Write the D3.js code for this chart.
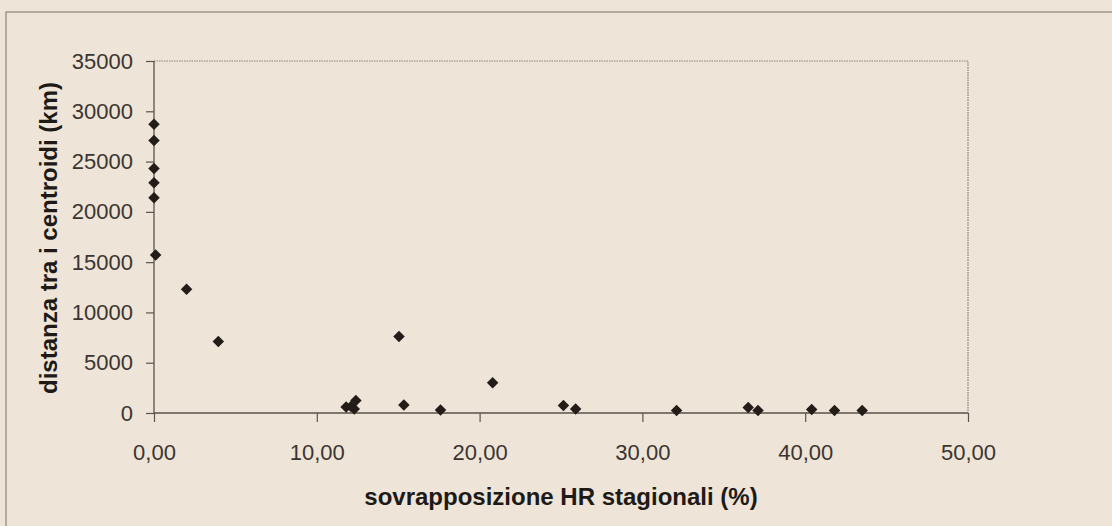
<!DOCTYPE html>
<html>
<head>
<meta charset="utf-8">
<script src="https://cdn.jsdelivr.net/npm/d3@7"></script>
<style>
    html, body { margin: 0; padding: 0; background: #eee4d8; }
    svg { display: block; }
    .tick text { font-family: 'Liberation Sans', Arial, sans-serif; }
</style>
</head>
<body>
<svg id="chart" width="1112" height="526"></svg>
<script>
// sovrapposizione HR stagionali (%) vs distanza tra i centroidi (km)
var hrOverlap = [0, 0, 0, 0, 0, 0.1, 2.0, 3.95, 11.8, 12.1, 12.3, 12.4, 15.05, 15.35, 17.6, 20.8,
    25.15, 25.9, 32.1, 36.5, 37.1, 40.4, 41.8, 43.5];
var centroidDist = [28700, 27100, 24300, 22900, 21400, 15700, 12300, 7100, 600, 650, 400, 1250, 7600, 800, 300, 3000,
    750, 400, 250, 550, 250, 350, 250, 250];
var xTicks = [0, 10, 20, 30, 40, 50];
var yTicks = [0, 5000, 10000, 15000, 20000, 25000, 30000, 35000];

var svg = d3.select('#chart');
var margin = {left: 154, right: 968, top: 61, bottom: 413};
var textColor = '#3b3530';
var axisColor = '#5a534d';

// outer frame of the figure
svg.append('rect')
    .attr('x', 6)
    .attr('y', 12)
    .attr('width', 1200)
    .attr('height', 600)
    .attr('fill', 'none')
    .attr('stroke', '#8c837a')
    .attr('stroke-width', 1.2);

var x = d3.scaleLinear().domain([0, 50]).range([margin.left, margin.right]);
var y = d3.scaleLinear().domain([0, 35000]).range([margin.bottom, margin.top]);

// top and right border of the plot area (dotted)
svg.append('path')
    .attr('d', 'M' + x(0) + ',' + y(35000) + 'H' + x(50) + 'V' + y(0))
    .attr('fill', 'none')
    .attr('stroke', '#8a8078')
    .attr('stroke-width', 1.2)
    .attr('stroke-dasharray', '1.5,1');

var fmtX = function (d) { return d3.format('.2f')(d).replace('.', ','); };

var xAxis = svg.append('g')
    .attr('transform', 'translate(0,' + y(0) + ')')
    .call(d3.axisBottom(x).tickValues(xTicks).tickFormat(fmtX).tickSize(9).tickPadding(22));

var yAxis = svg.append('g')
    .attr('transform', 'translate(' + x(0) + ',0)')
    .call(d3.axisLeft(y).tickValues(yTicks).tickFormat(d3.format('d')).tickSize(8).tickPadding(13));

[xAxis, yAxis].forEach(function (ax) {
    ax.select('.domain').attr('stroke', axisColor).attr('stroke-width', 1.3);
    ax.selectAll('.tick line').attr('stroke', axisColor).attr('stroke-width', 1.2);
    ax.selectAll('.tick text')
        .attr('fill', textColor)
        .style('font-size', '22px');
});
xAxis.select('.domain').attr('d', 'M' + x(0) + ',0H' + x(50));
yAxis.select('.domain').attr('d', 'M0,' + y(0) + 'V' + y(35000));

// points (diamonds = squares turned 45 degrees)
var diamond = d3.symbol().type(d3.symbolSquare).size(66);
svg.append('g')
    .selectAll('path')
    .data(hrOverlap.map(function (v, i) { return [v, centroidDist[i]]; }))
    .enter().append('path')
    .attr('d', diamond)
    .attr('transform', function (d) { return 'translate(' + x(d[0]) + ',' + y(d[1]) + ') rotate(45)'; })
    .attr('fill', '#231c19');

// axis titles
svg.append('text')
    .attr('x', (x(0) + x(50)) / 2)
    .attr('y', 505)
    .attr('text-anchor', 'middle')
    .attr('font-family', "'Liberation Sans', Arial, sans-serif")
    .attr('font-weight', 'bold')
    .attr('font-size', 24)
    .attr('fill', '#201a17')
    .text('sovrapposizione HR stagionali (%)');

svg.append('text')
    .attr('transform', 'translate(57,' + 238 + ') rotate(-90)')
    .attr('text-anchor', 'middle')
    .attr('font-family', "'Liberation Sans', Arial, sans-serif")
    .attr('font-weight', 'bold')
    .attr('font-size', 24)
    .attr('fill', '#201a17')
    .text('distanza tra i centroidi (km)');
</script>
</body>
</html>
